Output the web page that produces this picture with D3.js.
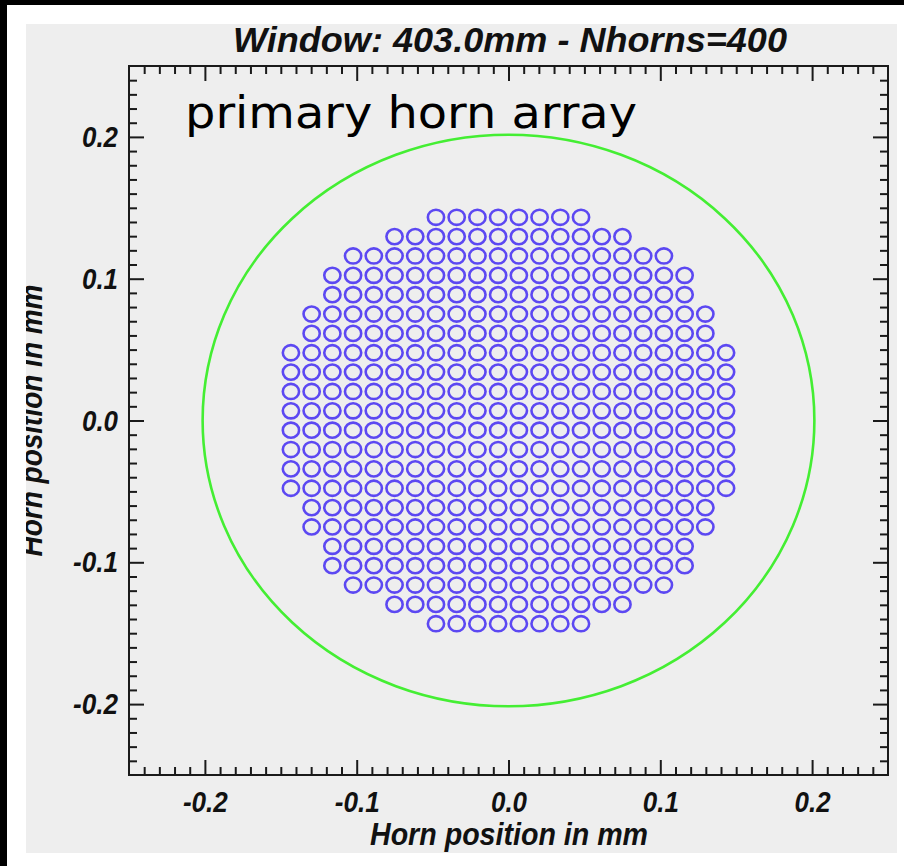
<!DOCTYPE html>
<html>
<head>
<meta charset="utf-8">
<script src="https://cdn.jsdelivr.net/npm/d3@7"></script>
<style>
  html, body { margin: 0; padding: 0; background: #ffffff; }
  svg { display: block; }
  .tick text { font-family: "Liberation Sans", Arial, sans-serif; font-weight: bold; font-style: italic; font-size: 30px; fill: #111; }
</style>
</head>
<body>
<svg id="chart" width="904" height="866"></svg>
<script>
// Horn array layout: number of horns in each row, top to bottom
const rowCounts = [8, 12, 16, 18, 18, 20, 20, 22, 22, 22, 22, 22, 22, 22, 22, 20, 20, 18, 18, 16, 12, 8];
const hornSpacing = 0.01365;   // centre-to-centre pitch
const hornRadius = 0.00535;    // drawn aperture radius
const windowDiameter = 0.403;  // window size (403.0 mm)
const majorTicks = [-0.2, -0.1, 0.0, 0.1, 0.2];
const axisDomain = [-0.25, 0.25];
const titleText = "Window: 403.0mm - Nhorns=400";
const labelText = "primary horn array";
const axisTitle = "Horn position in mm";

const svg = d3.select("#chart");
const W = 904, H = 866;

// page frame
svg.append("rect").attr("x", 0).attr("y", 0).attr("width", W).attr("height", H).attr("fill", "#ffffff");
svg.append("rect").attr("x", 0).attr("y", 0).attr("width", 7).attr("height", H).attr("fill", "#000");
svg.append("rect").attr("x", 0).attr("y", 0).attr("width", W).attr("height", 5).attr("fill", "#000");

const panel = { x: 26, y: 24, w: 871, h: 829 };
svg.append("defs").append("clipPath").attr("id", "panelClip")
  .append("rect").attr("x", panel.x).attr("y", panel.y).attr("width", panel.w).attr("height", panel.h);

const g = svg.append("g").attr("clip-path", "url(#panelClip)");
g.append("rect").attr("x", panel.x).attr("y", panel.y).attr("width", panel.w).attr("height", panel.h).attr("fill", "#eeeeee");

const plot = { left: 129, right: 888, top: 66, bottom: 775 };
const x = d3.scaleLinear().domain(axisDomain).range([plot.left, plot.right]);
const y = d3.scaleLinear().domain(axisDomain).range([plot.bottom, plot.top]);

// minor ticks every 0.01, skipping majors and the frame edges
const minorTicks = d3.range(-24, 25).map(i => i / 100)
  .filter(v => !majorTicks.some(m => Math.abs(m - v) < 1e-9));

const tickStroke = "#1a1a1a";
function styleAxis(sel) {
  sel.select(".domain").remove();
  sel.selectAll(".tick line").attr("stroke", tickStroke).attr("stroke-width", 2);
}
// condensed tick labels with a plain hyphen for negatives
function styleLabels(sel) {
  sel.selectAll(".tick text")
    .attr("textLength", d => d < 0 ? 45 : 36)
    .attr("lengthAdjust", "spacingAndGlyphs");
}

// minor ticks on all four sides
g.append("g").attr("transform", `translate(0,${plot.bottom})`)
  .call(d3.axisBottom(x).tickValues(minorTicks).tickSize(-8).tickFormat("")).call(styleAxis);
g.append("g").attr("transform", `translate(0,${plot.top})`)
  .call(d3.axisTop(x).tickValues(minorTicks).tickSize(-8).tickFormat("")).call(styleAxis);
g.append("g").attr("transform", `translate(${plot.left},0)`)
  .call(d3.axisLeft(y).tickValues(minorTicks).tickSize(-8).tickFormat("")).call(styleAxis);
g.append("g").attr("transform", `translate(${plot.right},0)`)
  .call(d3.axisRight(y).tickValues(minorTicks).tickSize(-8).tickFormat("")).call(styleAxis);

// major ticks, labelled on bottom and left
const fmt = v => d3.format(".1f")(v).replace("\u2212", "-");
g.append("g").attr("transform", `translate(0,${plot.bottom})`)
  .call(d3.axisBottom(x).tickValues(majorTicks).tickSize(-15).tickPadding(16).tickFormat(fmt))
  .call(styleAxis).call(styleLabels);
g.append("g").attr("transform", `translate(0,${plot.top})`)
  .call(d3.axisTop(x).tickValues(majorTicks).tickSize(-15).tickFormat("")).call(styleAxis);
g.append("g").attr("transform", `translate(${plot.left},0)`)
  .call(d3.axisLeft(y).tickValues(majorTicks).tickSize(-15).tickPadding(11).tickFormat(fmt))
  .call(styleAxis).call(styleLabels);
g.append("g").attr("transform", `translate(${plot.right},0)`)
  .call(d3.axisRight(y).tickValues(majorTicks).tickSize(-15).tickFormat("")).call(styleAxis);

// plot frame
g.append("rect")
  .attr("x", plot.left).attr("y", plot.top)
  .attr("width", plot.right - plot.left).attr("height", plot.bottom - plot.top)
  .attr("fill", "none").attr("stroke", tickStroke).attr("stroke-width", 2);

// window outline
const wr = windowDiameter / 2;
g.append("ellipse")
  .attr("cx", x(0)).attr("cy", y(0))
  .attr("rx", x(wr) - x(0)).attr("ry", y(0) - y(wr))
  .attr("fill", "none").attr("stroke", "#44ee33").attr("stroke-width", 2.6);

// horn positions on a square grid, rows centred on the optical axis
const nRows = rowCounts.length;
const horns = rowCounts.flatMap((n, j) =>
  d3.range(n).map(i => ({
    x: (i - (n - 1) / 2) * hornSpacing,
    y: ((nRows - 1) / 2 - j) * hornSpacing
  }))
);

g.append("g").selectAll("ellipse").data(horns).join("ellipse")
  .attr("cx", d => x(d.x)).attr("cy", d => y(d.y))
  .attr("rx", x(hornRadius) - x(0)).attr("ry", y(0) - y(hornRadius))
  .attr("fill", "none").attr("stroke", "#5c48f2").attr("stroke-width", 2.6);

// titles
const boldItalic = "'Liberation Sans', Arial, sans-serif";
g.append("text")
  .attr("x", 510).attr("y", 52).attr("text-anchor", "middle")
  .attr("font-family", boldItalic).attr("font-weight", "bold").attr("font-style", "italic")
  .attr("font-size", 35).attr("textLength", 554).attr("lengthAdjust", "spacingAndGlyphs")
  .attr("fill", "#111").text(titleText);

g.append("text")
  .attr("x", 509).attr("y", 845).attr("text-anchor", "middle")
  .attr("font-family", boldItalic).attr("font-weight", "bold").attr("font-style", "italic")
  .attr("font-size", 31).attr("textLength", 278).attr("lengthAdjust", "spacingAndGlyphs")
  .attr("fill", "#111").text(axisTitle);

g.append("text")
  .attr("transform", `translate(42,${y(0)}) rotate(-90)`).attr("text-anchor", "middle")
  .attr("font-family", boldItalic).attr("font-weight", "bold").attr("font-style", "italic")
  .attr("font-size", 31).attr("textLength", 272).attr("lengthAdjust", "spacingAndGlyphs")
  .attr("fill", "#111").text(axisTitle);

// annotation
g.append("text")
  .attr("x", 185).attr("y", 128)
  .attr("font-family", "'DejaVu Sans', Verdana, sans-serif")
  .attr("font-size", 44).attr("textLength", 452).attr("lengthAdjust", "spacingAndGlyphs")
  .attr("fill", "#000").text(labelText);
</script>
</body>
</html>
